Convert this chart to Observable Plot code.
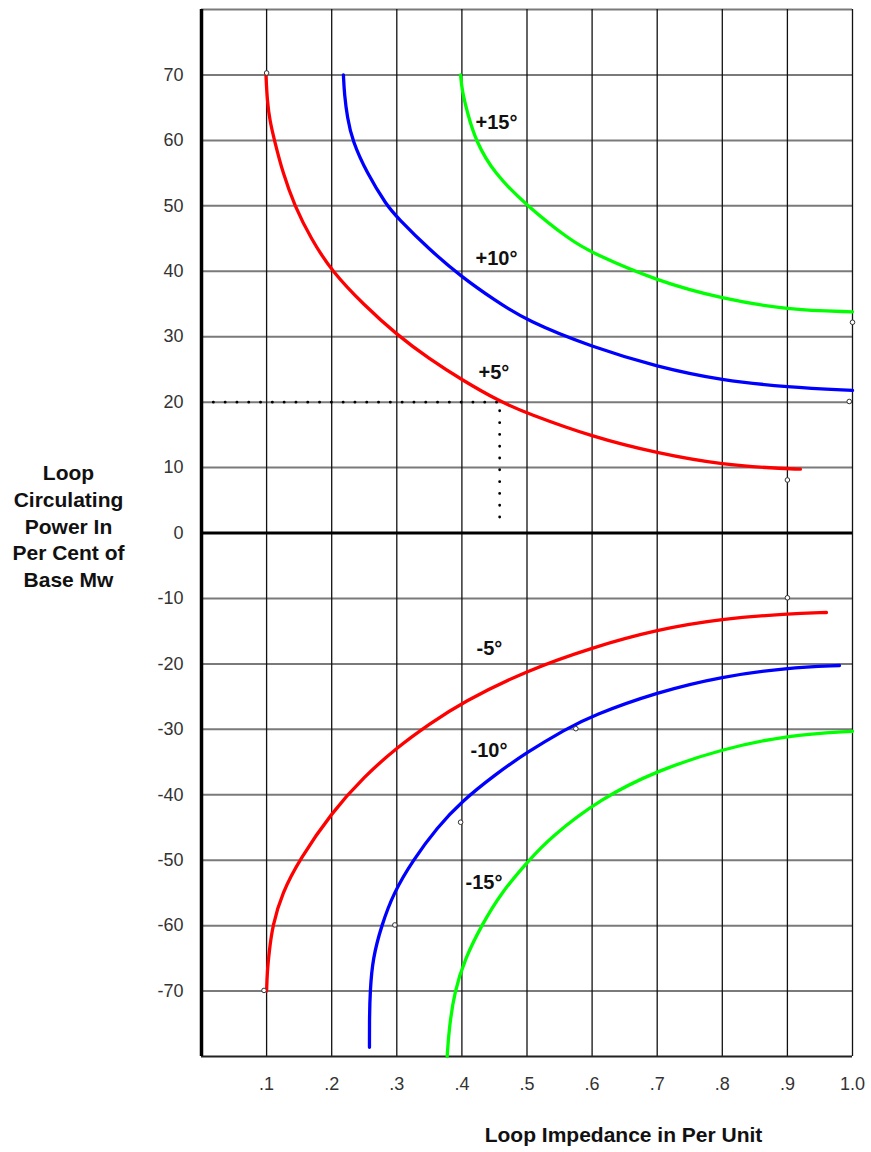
<!DOCTYPE html>
<html><head><meta charset="utf-8">
<script src="https://cdn.jsdelivr.net/npm/d3@7"></script>
<script src="https://cdn.jsdelivr.net/npm/@observablehq/plot@0.6"></script>
<style>body{margin:0;background:#fff}</style>
</head><body><div id="chart"></div>
<script>
// Axis ticks and labels
const xTicks = [0.1, 0.2, 0.3, 0.4, 0.5, 0.6, 0.7, 0.8, 0.9, 1.0];
const xTickLabels = [".1", ".2", ".3", ".4", ".5", ".6", ".7", ".8", ".9", "1.0"];
const yTicks = [70, 60, 50, 40, 30, 20, 10, 0, -10, -20, -30, -40, -50, -60, -70];
const yGrid = [80, 70, 60, 50, 40, 30, 20, 10, -10, -20, -30, -40, -50, -60, -70];

// Curves
const plus5X  = [0.099, 0.101, 0.105, 0.112, 0.125, 0.143, 0.168, 0.200, 0.250, 0.300, 0.350, 0.400, 0.458, 0.500, 0.600, 0.700, 0.800, 0.900, 0.920];
const plus5Y  = [70, 66, 63, 60, 55, 50, 45, 40, 34.8, 30.3, 26.6, 23.4, 20.1, 18.3, 14.7, 12.2, 10.4, 9.8, 9.75];
const plus10X = [0.218, 0.2195, 0.224, 0.2315, 0.254, 0.285, 0.300, 0.350, 0.400, 0.450, 0.500, 0.600, 0.700, 0.800, 0.900, 1.000];
const plus10Y = [70, 67, 63.5, 60, 55, 50, 48.3, 43.3, 39.1, 35.6, 32.4, 28.4, 25.4, 23.3, 22.3, 21.8];
const plus15X = [0.398, 0.400, 0.409, 0.421, 0.449, 0.500, 0.567, 0.600, 0.700, 0.800, 0.900, 1.000];
const plus15Y = [70, 67.7, 64, 60, 55, 50, 44.7, 42.8, 38.5, 35.8, 34.1, 33.8];
const minus5X  = [0.100, 0.101, 0.104, 0.109, 0.124, 0.150, 0.200, 0.250, 0.300, 0.350, 0.400, 0.500, 0.600, 0.700, 0.800, 0.900, 0.960];
const minus5Y  = [-70, -67, -64, -60, -55, -50, -42.7, -37.2, -32.8, -29.2, -25.9, -21.0, -17.5, -14.75, -13.1, -12.35, -12.15];
const minus10X = [0.258, 0.258, 0.259, 0.263, 0.2765, 0.295, 0.325, 0.362, 0.400, 0.450, 0.500, 0.559, 0.600, 0.700, 0.800, 0.900, 0.980];
const minus10Y = [-78.6, -74, -70, -65, -60, -55, -50, -45, -41.0, -37.0, -33.5, -30, -27.9, -24.3, -21.9, -20.6, -20.25];
const minus15X = [0.3774, 0.380, 0.3886, 0.405, 0.430, 0.460, 0.503, 0.536, 0.613, 0.700, 0.800, 0.900, 1.000];
const minus15Y = [-80, -76, -70, -65, -60, -55, -50, -46.5, -40.6, -36.3, -33.0, -30.9, -30.3];

const seriesNames  = ["+5", "+10", "+15", "-5", "-10", "-15"];
const seriesColors = ["#ff0000", "#0000ff", "#00ff00", "#ff0000", "#0000ff", "#00ff00"];
const seriesX = [plus5X, plus10X, plus15X, minus5X, minus10X, minus15X];
const seriesY = [plus5Y, plus10Y, plus15Y, minus5Y, minus10Y, minus15Y];

// Curve labels
const labelText = ["+15°", "+10°", "+5°", "-5°", "-10°", "-15°"];
const labelX = [0.421, 0.421, 0.4255, 0.4224, 0.4132, 0.4055];
const labelY = [62.7, 41.9, 24.5, -17.6, -33.3, -53.4];

// Small open circle markers
const markX = [0.100, 1.000, 0.995, 0.900, 0.900, 0.575, 0.398, 0.297, 0.096];
const markY = [70.3, 32.2, 20.1, 8.1, -9.9, -29.9, -44.2, -59.9, -69.9];

// Dotted read-off guide
const guideX = [0, 0.458, 0.458];
const guideY = [20, 20, 1];

const yTitle = "Loop\nCirculating\nPower In\nPer Cent of\nBase Mw";
const xTitle = "Loop Impedance in Per Unit";

const rows = seriesNames.flatMap((s, i) =>
  seriesX[i].map((x, j) => ({s, x, y: seriesY[i][j], c: seriesColors[i]})));
const labels = labelText.map((t, i) => ({t, x: labelX[i], y: labelY[i]}));
const marks = markX.map((x, i) => ({x, y: markY[i]}));
const guide = guideX.map((x, i) => ({x, y: guideY[i]}));

const chart = Plot.plot({
  width: 871,
  height: 1152,
  marginLeft: 201,
  marginRight: 19,
  marginTop: 9,
  marginBottom: 96,
  style: {fontFamily: "'Liberation Sans', Arial, sans-serif", background: "#fff"},
  x: {domain: [0, 1]},
  y: {domain: [-80, 80]},
  color: {type: "identity"},
  marks: [
    Plot.ruleY(yGrid, {stroke: "#7a7a7a", strokeWidth: 2}),
    Plot.ruleX(xTicks, {stroke: "#111", strokeWidth: 1.3}),
    Plot.ruleY([-80], {stroke: "#222", strokeWidth: 2}),
    Plot.ruleY([0], {stroke: "#000", strokeWidth: 3}),
    Plot.ruleX([0], {stroke: "#000", strokeWidth: 3.5}),
    Plot.line(guide, {x: "x", y: "y", stroke: "#000", strokeWidth: 2.8, strokeDasharray: "0.1,11.7", strokeLinecap: "round"}),
    Plot.line(rows, {x: "x", y: "y", z: "s", stroke: "c", strokeWidth: 3.3, curve: "basis"}),
    Plot.dot(marks, {x: "x", y: "y", r: 2.3, stroke: "#333", fill: "#fff", strokeWidth: 1}),
    Plot.text(labels, {x: "x", y: "y", text: "t", textAnchor: "start", fontSize: 20, fontWeight: "bold", fill: "#111"}),
    Plot.axisY(yTicks, {label: null, tickSize: 0, tickPadding: 18, fontSize: 18, color: "#333", tickFormat: d => String(d)}),
    Plot.axisX(xTicks, {label: null, tickSize: 0, tickPadding: 21, fontSize: 18, color: "#333", tickFormat: (d, i) => xTickLabels[i]}),
    Plot.text([yTitle], {frameAnchor: "left", dx: -133, dy: -8, textAnchor: "middle", lineHeight: 1.27, fontSize: 21, fontWeight: "bold", fill: "#111"}),
    Plot.text([xTitle], {frameAnchor: "bottom", dx: 96.5, dy: 85, textAnchor: "middle", fontSize: 21, fontWeight: "bold", fill: "#111"})
  ]
});
document.getElementById("chart").appendChild(chart);
</script></body></html>
